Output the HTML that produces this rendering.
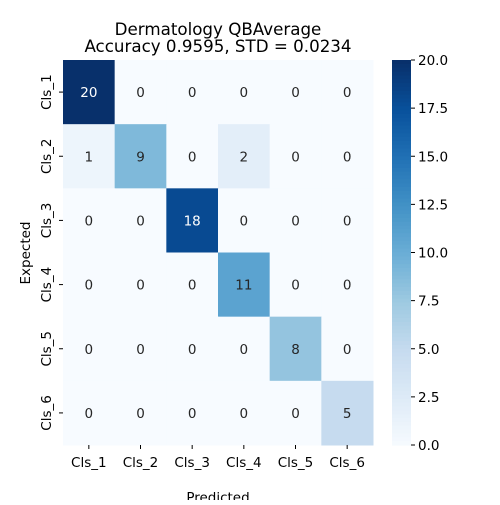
<!DOCTYPE html>
<html><head><meta charset="utf-8"><style>body{margin:0;background:#fff;overflow:hidden}svg{font-family:"DejaVu Sans","Liberation Sans",sans-serif}</style></head>
<body>
<svg id="c" width="500" height="500" xmlns="http://www.w3.org/2000/svg">
<text x="218" y="35" text-anchor="middle" font-size="16.7">Dermatology QBAverage</text>
<text x="218" y="52" text-anchor="middle" font-size="16.7">Accuracy 0.9595, STD = 0.0234</text>
<text x="218" y="502" text-anchor="middle" font-size="13.5">Predicted</text>
<text transform="translate(30,253) rotate(-90)" text-anchor="middle" font-size="13.5">Expected</text>
<g id="cells"></g><g id="cbar"></g>
</svg>
<script>
const labels=["Cls_1","Cls_2","Cls_3","Cls_4","Cls_5","Cls_6"];
const matrix=[[20,0,0,0,0,0],[1,9,0,2,0,0],[0,0,18,0,0,0],[0,0,0,11,0,0],[0,0,0,0,8,0],[0,0,0,0,0,5]];
const cbTicks=[0,2.5,5,7.5,10,12.5,15,17.5,20];
const vmin=0,vmax=20;
const L=63,T=60,W=310,H=385,CBX=392,CBW=19;
const stops=["#f7fbff","#deebf7","#c6dbef","#9ecae1","#6baed6","#4292c6","#2171b5","#08519c","#08306b"];
function hx(h){return [1,3,5].map(i=>parseInt(h.substr(i,2),16));}
function cmap(t){t=Math.max(0,Math.min(1,t));const p=t*8,i=Math.min(7,Math.floor(p)),f=p-i;const a=hx(stops[i]),b=hx(stops[i+1]);return a.map((v,k)=>Math.round(v+(b[k]-v)*f));}
const svg=document.getElementById('c'),ns="http://www.w3.org/2000/svg";
function el(t,a,p){const e=document.createElementNS(ns,t);for(const k in a)e.setAttribute(k,a[k]);(p||svg).appendChild(e);return e;}
const cw=W/labels.length,ch=H/labels.length;
const xs=j=>L+j*cw, ys=i=>T+i*ch;
const cg=document.getElementById('cells');
matrix.forEach((row,i)=>row.forEach((v,j)=>{
 const c=cmap((v-vmin)/(vmax-vmin));
 const r=el('rect',{x:xs(j),y:ys(i),width:cw+0.5,height:ch+0.5,fill:`rgb(${c})`},cg);
 
 
 const lum=(0.2126*c[0]+0.7152*c[1]+0.0722*c[2])/255;
 const t=el('text',{x:xs(j)+cw/2,y:ys(i)+ch/2+5,'text-anchor':'middle','font-size':13.5,fill:lum>0.408?'#262626':'#fff'},cg);
 t.textContent=v;
 
 
}));
labels.forEach((lab,k)=>{
 el('line',{x1:xs(k)+cw/2,x2:xs(k)+cw/2,y1:T+H,y2:T+H+4,stroke:'#000'});
 const t=el('text',{x:xs(k)+cw/2,y:T+H+22,'text-anchor':'middle','font-size':13.5});
 t.textContent=lab;
 
 
 el('line',{x1:L-4,x2:L,y1:ys(k)+ch/2,y2:ys(k)+ch/2,stroke:'#000'});
 const yt=el('text',{transform:`translate(${L-12},${ys(k)+ch/2}) rotate(-90)`,'text-anchor':'middle','font-size':13.5});
 yt.textContent=lab;
 
 
});
const cb=document.getElementById('cbar');
const N=100;
for(let n=0;n<N;n++){const c=cmap(1-n/N);el('rect',{x:CBX,y:T+n*H/N,width:CBW,height:H/N+0.6,fill:`rgb(${c})`},cb);}
const cy=v=>T+H-(v-vmin)/(vmax-vmin)*H;
cbTicks.forEach(v=>{
 el('line',{x1:CBX+CBW,x2:CBX+CBW+4,y1:cy(v),y2:cy(v),stroke:'#000'},cb);
 const t=el('text',{x:CBX+CBW+7,y:cy(v)+5,'font-size':13.5},cb);
 t.textContent=v.toFixed(1);
 
 
});


</script>
</body></html>
